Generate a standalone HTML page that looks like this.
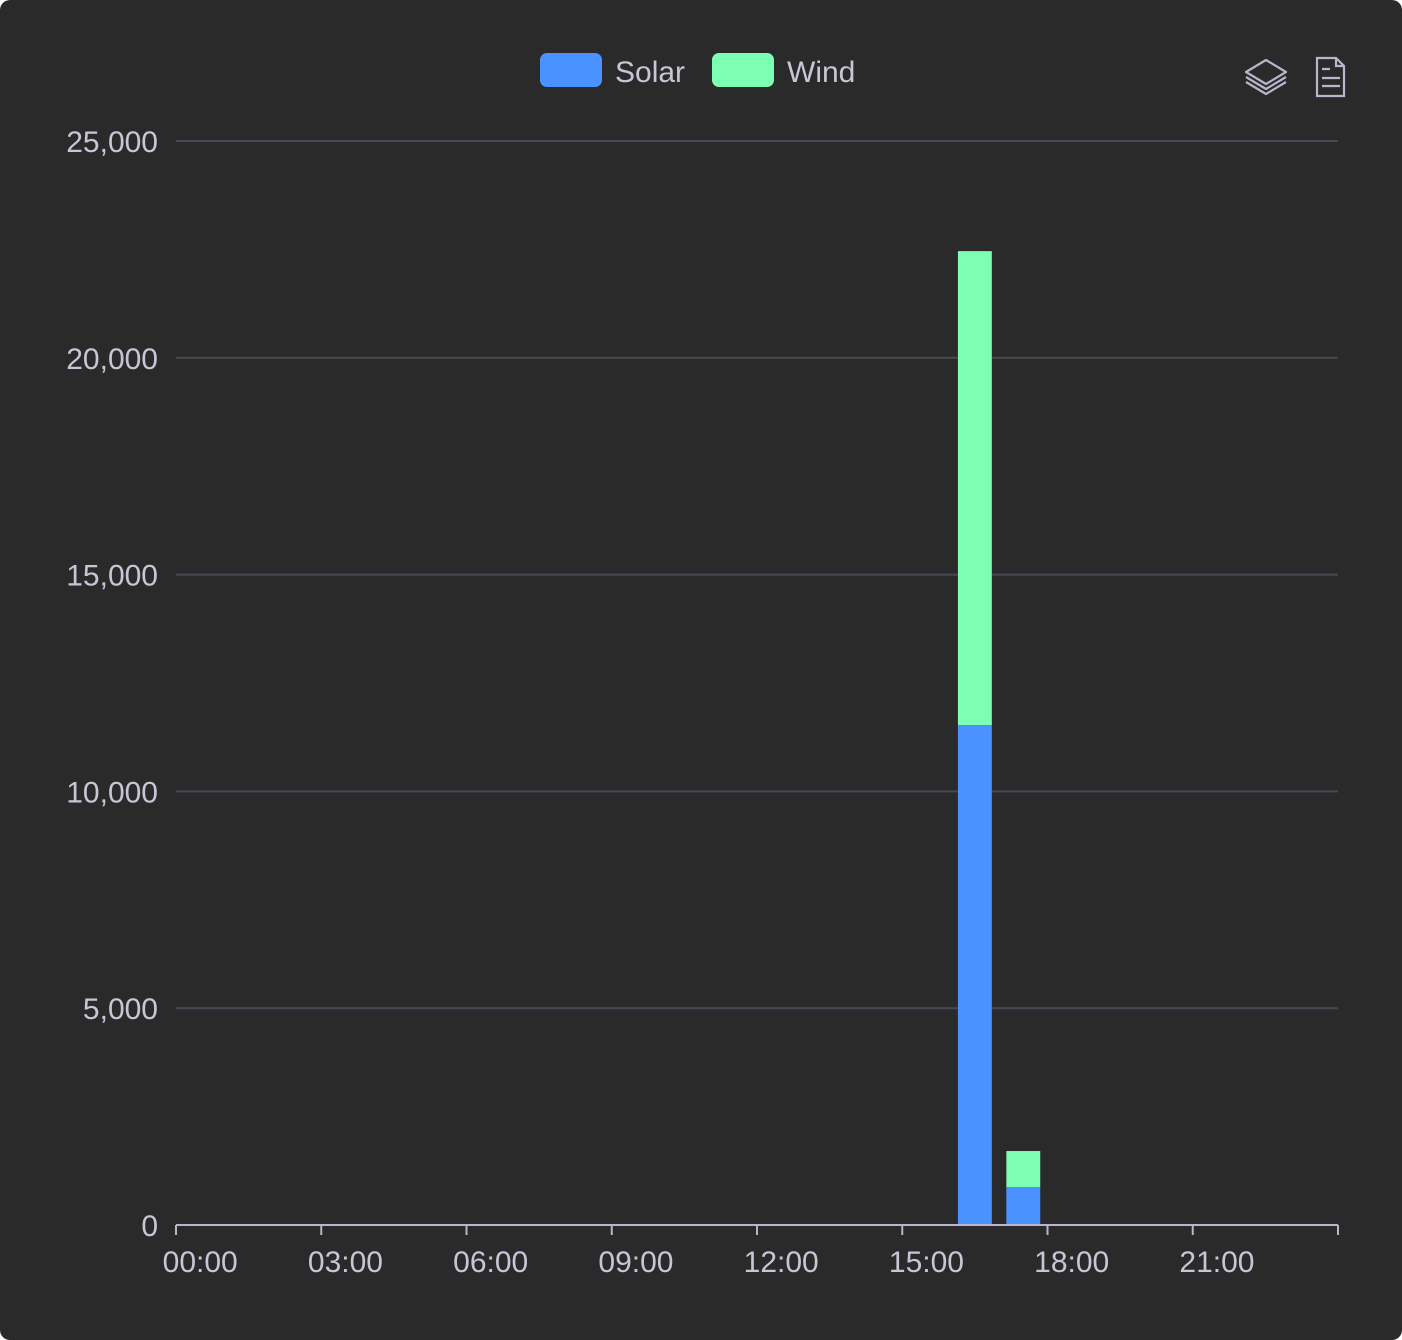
<!DOCTYPE html>
<html><head><meta charset="utf-8">
<style>
html,body{margin:0;padding:0;background:#fff;}
#wrap{width:1402px;height:1340px;background:#2a2a2a;border-radius:10px;position:relative;overflow:hidden;}
svg{position:absolute;left:0;top:0;}
text{font-family:"Liberation Sans",sans-serif;}
</style></head>
<body>
<div id="wrap">
<svg id="chart" width="1402" height="1340">
  <g>
    <g>
      <rect x="540" y="53" width="62" height="34" rx="7" fill="#4992ff"/>
      <text x="615" y="82" font-size="30" fill="#c8c6d6">Solar</text>
    </g>
    <g>
      <rect x="712" y="53" width="62" height="34" rx="7" fill="#7cffb2"/>
      <text x="787" y="82" font-size="30" fill="#c8c6d6">Wind</text>
    </g>
  </g>
  <g fill="none" stroke="#b9b6cc" stroke-width="2.2" stroke-linejoin="round">
    <path d="M1246 72 L1266 60 L1286 72 L1266 84 Z"/>
    <path d="M1246 77 L1266 89 L1286 77"/>
    <path d="M1246 82 L1266 94 L1286 82"/>
  </g>
  <g fill="none" stroke="#b9b6cc" stroke-width="2.2">
    <path d="M1317 58 L1336 58 L1344 66 L1344 96 L1317 96 Z"/>
    <path d="M1336 58 L1336 66 L1344 66"/>
    <path d="M1322 69 L1330 69 M1322 78 L1340 78 M1322 86 L1340 86"/>
  </g>
  <g id="grid"></g>
  <g id="ylab"></g>
  <g id="bars"></g>
  <g id="xaxis"></g>
</svg>
</div>
<script>
const hours = Array.from({length:24},(_,i)=>String(i).padStart(2,'0')+':00');
const solar = [0,0,0,0,0,0,0,0,0,0,0,0,0,0,0,0,11530,876,0,0,0,0,0,0];
const wind  = [0,0,0,0,0,0,0,0,0,0,0,0,0,0,0,0,10930,830,0,0,0,0,0,0];
const yTicks = [0,5000,10000,15000,20000,25000];
const xLabelHours = ['00:00','03:00','06:00','09:00','12:00','15:00','18:00','21:00'];

const NS='http://www.w3.org/2000/svg';
const L=176,R=1338,T=141,B=1225,YMAX=25000;
const band=(R-L)/hours.length;
const y=v=>B-(v/YMAX)*(B-T);
const xb=i=>L+i*band;
function mk(tag,attrs,parent){const e=document.createElementNS(NS,tag);for(const k in attrs)e.setAttribute(k,attrs[k]);parent.appendChild(e);return e;}
const grid=document.getElementById('grid'),ylab=document.getElementById('ylab'),bars=document.getElementById('bars'),xax=document.getElementById('xaxis');
yTicks.forEach(t=>{
  if(t>0){const g=mk('line',{x1:L,x2:R,y1:y(t),y2:y(t),stroke:'#484753','stroke-width':2},grid);
  
  }
  const tx=mk('text',{x:158,y:y(t)+11,'text-anchor':'end','font-size':30,fill:'#c8c6d6'},ylab);
  tx.textContent=t.toLocaleString('en-US');
  
  
});
const bw=band*0.7;
hours.forEach((h,i)=>{
  const cx=xb(i)+band/2;
  if(solar[i]>0){const r=mk('rect',{x:cx-bw/2,y:y(solar[i]),width:bw,height:B-y(solar[i]),fill:'#4992ff'},bars);
    
    }
  if(wind[i]>0){const tot=solar[i]+wind[i];const r=mk('rect',{x:cx-bw/2,y:y(tot),width:bw,height:y(solar[i])-y(tot),fill:'#7cffb2'},bars);
    
    }
});
const ax=mk('line',{x1:L,x2:R,y1:B,y2:B,stroke:'#b9b6cc','stroke-width':2},xax);


for(let i=0;i<=hours.length;i+=3){
  const tk=mk('line',{x1:xb(i),x2:xb(i),y1:B,y2:B+10,stroke:'#b9b6cc','stroke-width':2},xax);
  
  
}
{const tk=mk('line',{x1:R,x2:R,y1:B,y2:B+10,stroke:'#b9b6cc','stroke-width':2},xax);

}
xLabelHours.forEach(lbl=>{
  const i=hours.indexOf(lbl);
  const tx=mk('text',{x:xb(i)+band/2,y:B+47,'text-anchor':'middle','font-size':30,fill:'#c8c6d6'},xax);
  tx.textContent=lbl;
  
  
});
</script>
</body></html>
